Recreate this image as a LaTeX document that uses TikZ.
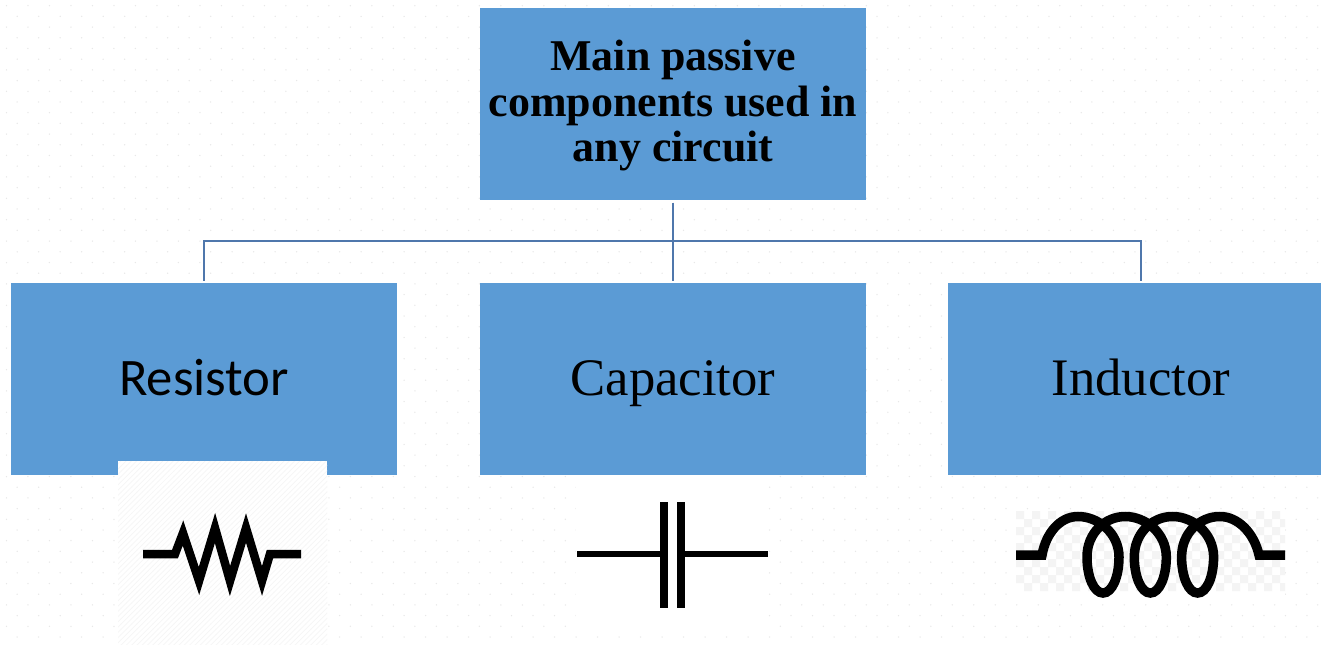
\documentclass[tikz,border=0pt]{standalone}
\usepackage{fontspec}
\setmainfont{Liberation Serif}
\newfontfamily\labelsans{Carlito}
\usepackage{tikz}
\usetikzlibrary{positioning,patterns}
\definecolor{boxblue}{HTML}{5B9BD5}
\definecolor{linkblue}{HTML}{4F77AC}
\tikzset{
  bluebox/.style={
    fill=boxblue,
    align=center,
    text=black,
    minimum width=7.72cm,
    minimum height=3.84cm,
    inner sep=0pt,
    outer sep=0pt
  },
  partbox/.style={
    bluebox,
    text height=0.8cm,
    text depth=0.14cm,
    font=\fontsize{30}{34}\selectfont
  },
  titlebox/.style={
    bluebox,
    font=\fontsize{25}{26}\selectfont\bfseries
  },
  linkline/.style={
    draw=linkblue,
    line width=0.038cm,
    shorten >=0.04cm,
    shorten <=0.06cm
  },
  symbolline/.style={
    draw=black,
    miter limit=12
  },
  dotrow/.style={
    draw=gray!18,
    line width=0.03cm,
    line cap=round,
    dash pattern=on 0pt off 0.43cm
  }
}

\begin{document}
\begin{tikzpicture}[x=0.02cm,y=-0.02cm,node distance=1.66cm]
  \useasboundingbox (0,0) rectangle (1321,645);
  \clip (0,0) rectangle (1321,645);
  % faint dotted page texture
  \fill[white] (0,0) rectangle (1321,645);
  \foreach \r in {0,2,...,60} {
    \draw[dotrow] (6.5,\r*10.7+5.7) -- (1321,\r*10.7+5.7);
    \draw[dotrow] (17.2,\r*10.7+16.4) -- (1321,\r*10.7+16.4);
  }

  \node[titlebox] (main) at (673,104) {\rule{0pt}{0.68cm}Main passive\\components used in\\any circuit};
  \node[partbox, below=of main] (capacitor) {Capacitor};
  \node[partbox, left=of capacitor] (resistor) {\labelsans Resistor};
  \node[partbox, right=1.64cm of capacitor] (inductor) {Inductor};

  \draw[linkline] (main.south) -- (capacitor.north);
  \draw[linkline] (main.south) -- ++(0,41) -| (resistor.north);
  \draw[linkline] (main.south) -- ++(0,41) -| (inductor.north);

  % resistor symbol
  \fill[white] (118,461) rectangle (327,645);
  \fill[pattern=north east lines,pattern color=gray!7] (118,461) rectangle (327,645);
  \draw[symbolline,line width=0.17cm] (143,554) -- (175,554) -- (183,533) -- (199,581)
    -- (215,528) -- (230,581) -- (246,528) -- (262,581) -- (270,554) -- (301,554);

  % capacitor symbol
  \fill[white] (576,475) rectangle (768,630);
  \draw[symbolline,line width=0.105cm] (577,554) -- (664,554);
  \draw[symbolline,line width=0.105cm] (681,554) -- (768,554);
  \draw[symbolline,line width=0.165cm] (664.2,502) -- (664.2,608);
  \draw[symbolline,line width=0.165cm] (680.8,502) -- (680.8,608);

  % inductor symbol
  \begin{scope}
    \clip (1016,511) rectangle (1285,598);
    \fill[white] (1016,511) rectangle (1285,598);
    \foreach \y in {511,527,...,590} {
      \fill[gray!9] foreach \x in {1016,1032,...,1280} {
        (\x,\y) rectangle ++(8,8) (\x+8,\y+8) rectangle ++(8,8)
      };
    }
  \end{scope}
  \draw[symbolline,line width=0.19cm] (1016,555) -- (1042,555)
    .. controls (1046,533) and (1060,516.5) .. (1078,516.5)
    foreach \t in {1078,1125.3,1172.6} {
      .. controls (\t+20,516.5) and (\t+41,533) .. (\t+41,557)
      .. controls (\t+41,577) and (\t+34,593) .. (\t+25,593)
      .. controls (\t+16,593) and (\t+9,577) .. (\t+9,557)
      .. controls (\t+9,533) and (\t+27,516.5) .. (\t+47.3,516.5)
    }
    .. controls (1238,516.5) and (1254,533) .. (1259,555) -- (1285,555);
\end{tikzpicture}
\end{document}
